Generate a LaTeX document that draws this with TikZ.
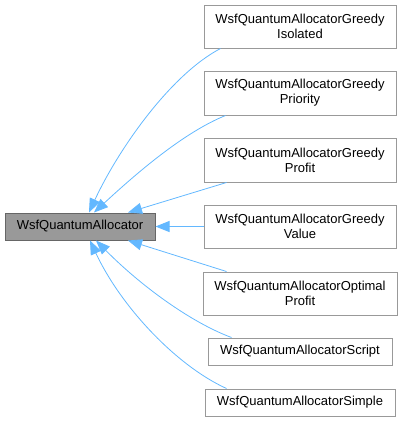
\documentclass[tikz,border=0pt]{standalone}
\usepackage{fontspec}
\setmainfont{Liberation Sans}
\usetikzlibrary{arrows.meta}
\definecolor{edgeblue}{HTML}{63B8FF}
\definecolor{boxgray}{HTML}{999999}
\definecolor{boxline}{HTML}{666666}
\begin{document}
\begin{tikzpicture}[x=1pt,y=-1pt,
  cls/.style={draw=boxgray, line width=1pt, fill=white, inner sep=0pt, align=center,
              font=\fontsize{13}{15}\selectfont},
  base/.style={cls, draw=boxline, fill=boxgray},
  inherit/.style={edgeblue, line width=0.8pt, {Triangle[length=14pt,width=11pt]}-}]
\useasboundingbox (0,0) rectangle (402,421);

\node[base, minimum width=150pt, minimum height=27pt] (alloc) at (80,226.5) {WsfQuantumAllocator};
\node[cls, minimum width=192pt, minimum height=43pt] (isolated) at (300,26.5) {WsfQuantumAllocatorGreedy\\Isolated};
\node[cls, minimum width=192pt, minimum height=44pt] (priority) at (300,93) {WsfQuantumAllocatorGreedy\\Priority};
\node[cls, minimum width=192pt, minimum height=44pt] (profit) at (300,160) {WsfQuantumAllocatorGreedy\\Profit};
\node[cls, minimum width=192pt, minimum height=43pt] (value) at (300,226.5) {WsfQuantumAllocatorGreedy\\Value};
\node[cls, minimum width=194pt, minimum height=43pt] (optimal) at (300,293.5) {WsfQuantumAllocatorOptimal\\Profit};
\node[cls, minimum width=184pt, minimum height=27pt] (script) at (300,351.5) {WsfQuantumAllocatorScript};
\node[cls, minimum width=190pt, minimum height=27pt] (simple) at (300,402.5) {WsfQuantumAllocatorSimple};

% edges into the base class
\draw[inherit] ([xshift=9pt]alloc.north) .. controls (118,150) and (170,75) .. ([xshift=17pt]isolated.south west);
\draw[inherit] ([xshift=14pt]alloc.north) .. controls (140,170) and (185,132) .. ([xshift=22pt]priority.south west);
\draw[inherit] ([xshift=48pt]alloc.north) -- ([xshift=23pt]profit.south west);
\draw[inherit] (alloc.east) -- (value.west);
\draw[inherit] ([xshift=48pt]alloc.south) -- ([xshift=24pt]optimal.north west);
\draw[inherit] ([xshift=16pt]alloc.south) .. controls (140,285) and (190,322) .. ([xshift=24pt]script.north west);
\draw[inherit] ([xshift=10pt]alloc.south) .. controls (120,305) and (175,365) .. ([xshift=22pt]simple.north west);

\end{tikzpicture}
\end{document}
